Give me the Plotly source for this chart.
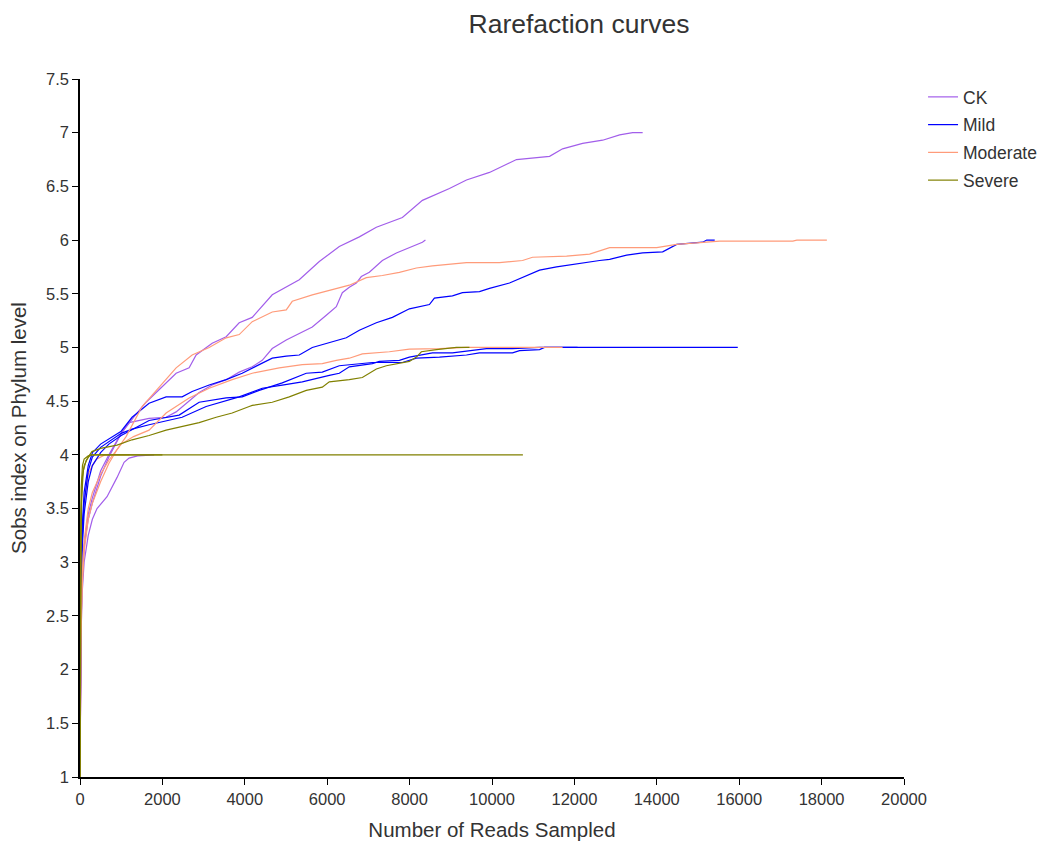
import plotly.graph_objects as go

# ---------------- data (reads sampled, Sobs index) ----------------
ck1_x = [0, 10, 25, 50, 100, 200, 300, 500, 700, 1000, 1300, 1604, 2333, 2649, 2819, 3208, 3548, 3864, 4180, 4666,
         5006, 5322, 5808, 6294, 6780, 7193, 7825, 8311, 8967, 9380, 9939, 10595, 11397, 11713, 12199, 12685,
         13098, 13414, 13657]
ck1_y = [1, 1.8, 2.4, 2.8, 3.15, 3.45, 3.6, 3.85, 4.0, 4.2, 4.35, 4.49, 4.76, 4.81, 4.93, 5.04, 5.10, 5.23, 5.28, 5.49,
         5.56, 5.63, 5.80, 5.94, 6.03, 6.12, 6.21, 6.37, 6.48, 6.56, 6.63, 6.75, 6.78, 6.85, 6.90, 6.93,
         6.98, 7.0, 7.0]

ck2_x = [0, 10, 25, 50, 100, 200, 300, 500, 700, 1000, 1191, 1677, 2090, 2333, 2576, 2892, 3208, 3548, 3864, 4180,
         4423, 4666, 5006, 5322, 5638, 5978, 6221, 6367, 6537, 6707, 6828, 7023, 7339, 7679, 7995, 8311, 8384]
ck2_y = [1, 1.8, 2.4, 2.8, 3.15, 3.4, 3.55, 3.8, 3.98, 4.2, 4.30, 4.34, 4.35, 4.40, 4.48, 4.58, 4.65, 4.70, 4.77, 4.82,
         4.88, 4.99, 5.07, 5.13, 5.19, 5.30, 5.38, 5.51, 5.56, 5.60, 5.66, 5.70, 5.81, 5.88, 5.93, 5.98, 6.0]

ck3_x = [0, 10, 25, 50, 100, 200, 300, 413, 656, 900, 1070, 1190, 1400, 1800]
ck3_y = [1, 1.7, 2.3, 2.7, 3.0, 3.25, 3.4, 3.5, 3.61, 3.79, 3.93, 3.97, 3.99, 4.0]

mild1_x = [0, 10, 25, 50, 100, 200, 300, 500, 700, 1000, 1264, 1677, 2090, 2479, 2722, 3135, 3548, 3937, 4350,
           4666, 5006, 5322, 5638, 5978, 6464, 6780, 7193, 7582, 7995, 8481, 8602, 9040, 9283, 9696, 9939, 10425,
           10741, 11154, 11567, 12199, 12612, 12855, 13268, 13657, 14143, 14483, 15115, 15212, 15406]
mild1_y = [1, 2.2, 2.9, 3.3, 3.65, 3.9, 4.02, 4.1, 4.15, 4.22, 4.35, 4.48, 4.54, 4.54, 4.59, 4.65, 4.70, 4.76, 4.84,
           4.90, 4.92, 4.93, 5.00, 5.04, 5.09, 5.16, 5.23, 5.28, 5.36, 5.40, 5.46, 5.48, 5.51, 5.52, 5.55, 5.60,
           5.65, 5.72, 5.75, 5.79, 5.81, 5.82, 5.86, 5.88, 5.89, 5.96, 5.98, 6.0, 6.0]

mild2_x = [0, 10, 25, 50, 100, 200, 300, 500, 700, 1000, 1200, 1677, 2406, 2892, 3548, 3937, 4350, 4909, 5492,
           5881, 6294, 6780, 7096, 7825, 8165, 8724, 9380, 9696, 10498, 10668, 11154, 11275, 15965]
mild2_y = [1, 2.0, 2.7, 3.1, 3.45, 3.75, 3.9, 4.02, 4.1, 4.18, 4.22, 4.32, 4.37, 4.49, 4.53, 4.54, 4.60, 4.67, 4.76,
           4.77, 4.83, 4.85, 4.86, 4.86, 4.90, 4.91, 4.93, 4.95, 4.95, 4.97, 4.98, 5.0, 5.0]

mild3_x = [0, 10, 25, 50, 100, 200, 300, 500, 700, 1000, 1264, 1677, 2479, 3062, 3864, 4423, 4909, 5395, 6051,
           6294, 6537, 7096, 7266, 7752, 7995, 8238, 8554, 9040, 9526, 9866, 10498, 11154, 12077]
mild3_y = [1, 2.1, 2.8, 3.2, 3.55, 3.85, 3.98, 4.07, 4.12, 4.2, 4.24, 4.28, 4.35, 4.45, 4.54, 4.62, 4.65, 4.68, 4.74,
           4.76, 4.82, 4.85, 4.87, 4.88, 4.91, 4.93, 4.95, 4.95, 4.97, 4.99, 4.99, 5.0, 5.0]

mod1_x = [0, 10, 25, 50, 100, 200, 300, 500, 700, 900, 1118, 1507, 1920, 2333, 2722, 3135, 3548, 3864, 4180,
          4666, 5006, 5152, 5638, 6124, 6537, 6950, 7339, 7752, 8165, 8554, 9380, 10182, 10741, 10984, 11810,
          12369, 12855, 13997, 14483, 15528, 17302, 17399, 18128]
mod1_y = [1, 1.7, 2.3, 2.75, 3.1, 3.4, 3.55, 3.75, 3.92, 4.05, 4.17, 4.45, 4.63, 4.81, 4.93, 5.00, 5.09, 5.12, 5.24,
          5.33, 5.35, 5.43, 5.49, 5.54, 5.58, 5.65, 5.67, 5.70, 5.74, 5.76, 5.79, 5.79, 5.81, 5.84, 5.85,
          5.87, 5.93, 5.93, 5.96, 5.99, 5.99, 6.0, 6.0]

mod2_x = [0, 10, 25, 50, 100, 200, 300, 500, 700, 1000, 1300, 1677, 2090, 2649, 3135, 3694, 4180, 4836, 5395,
          5881, 6221, 6537, 6853, 7509, 7995, 8724, 9380, 11713]
mod2_y = [1, 1.8, 2.4, 2.85, 3.2, 3.5, 3.65, 3.82, 3.95, 4.1, 4.17, 4.23, 4.39, 4.53, 4.62, 4.70, 4.76, 4.81, 4.84,
          4.85, 4.88, 4.90, 4.94, 4.96, 4.985, 4.99, 5.0, 5.0]

mod3_x = [0, 10, 25, 50, 100, 200, 300, 400, 600, 1200]
mod3_y = [1, 2.0, 2.7, 3.2, 3.55, 3.82, 3.9, 3.96, 4.0, 4.0]

sev1_x = [0, 5, 15, 30, 60, 100, 200, 290, 500, 900, 1264, 1677, 2090, 2576, 2892, 3305, 3694, 4107, 4180, 4666,
          5079, 5492, 5881, 6051, 6537, 6853, 7023, 7193, 7436, 7825, 7995, 8165, 8286, 8651, 8894, 9137, 9453]
sev1_y = [1, 2.0, 3.0, 3.5, 3.8, 3.9, 3.98, 4.03, 4.06, 4.09, 4.14, 4.18, 4.23, 4.27, 4.30, 4.35, 4.39, 4.45, 4.46,
          4.49, 4.54, 4.60, 4.63, 4.68, 4.70, 4.72, 4.76, 4.80, 4.83, 4.86, 4.87, 4.91, 4.96, 4.98, 4.99, 5.0, 5.0]

sev2_x = [0, 5, 15, 30, 60, 100, 200, 300, 10750]
sev2_y = [1, 2.5, 3.3, 3.7, 3.9, 3.96, 3.99, 4.0, 4.0]

sev3_x = [0, 8, 20, 40, 80, 150, 250, 2000]
sev3_y = [1, 2.2, 3.1, 3.6, 3.85, 3.95, 4.0, 4.0]

groups = ["CK", "Mild", "Moderate", "Severe"]
colors = {"CK": "#A25EEA", "Mild": "#0000FF", "Moderate": "#FF9B7A", "Severe": "#808000"}
curves = [
    ("Moderate", mod3_x, mod3_y),
    ("CK", ck1_x, ck1_y), ("CK", ck2_x, ck2_y), ("CK", ck3_x, ck3_y),
    ("Mild", mild1_x, mild1_y), ("Mild", mild2_x, mild2_y), ("Mild", mild3_x, mild3_y),
    ("Moderate", mod1_x, mod1_y), ("Moderate", mod2_x, mod2_y),
    ("Severe", sev1_x, sev1_y), ("Severe", sev2_x, sev2_y), ("Severe", sev3_x, sev3_y),
]

fig = go.Figure()
shown = set()
for g, xs, ys in curves:
    fig.add_trace(go.Scatter(
        x=xs, y=ys, mode="lines", name=g, legendgroup=g,
        legendrank=groups.index(g) + 1,
        showlegend=g not in shown,
        line=dict(color=colors[g], width=1.2),
        hoverinfo="x+y+name",
    ))
    shown.add(g)

font_family = "Liberation Sans, Arial, sans-serif"
fig.update_layout(
    width=1039, height=841,
    margin=dict(l=80, r=135, t=79, b=64, autoexpand=False),
    paper_bgcolor="white", plot_bgcolor="white",
    font=dict(family=font_family, color="#333333"),
    title=dict(text="Rarefaction curves", x=579 / 1039, xanchor="center", xref="container",
               y=1 - 24 / 841, yanchor="middle", font=dict(size=26.5, color="#333333")),
    legend=dict(x=1.0231, xanchor="left", y=1.0, yanchor="top",
                font=dict(size=17.5, color="#333333"), traceorder="grouped", tracegroupgap=2,
                itemwidth=30, bgcolor="rgba(0,0,0,0)"),
    showlegend=True,
)
fig.update_xaxes(
    range=[0, 20000], dtick=2000, tick0=0, tickformat="d", showgrid=False, zeroline=False,
    showline=True, linecolor="black", linewidth=1.5, ticks="outside", ticklen=6, tickcolor="black",
    tickfont=dict(size=16.5, color="#333333"),
    title=dict(text="Number of Reads Sampled", font=dict(size=20.5, color="#333333"), standoff=18),
)
fig.update_yaxes(
    range=[1, 7.5], dtick=0.5, tick0=1, showgrid=False, zeroline=False,
    showline=True, linecolor="black", linewidth=1.5, ticks="outside", ticklen=6, tickcolor="black",
    tickfont=dict(size=16.5, color="#333333"),
    title=dict(text="Sobs index on Phylum level", font=dict(size=20.5, color="#333333"), standoff=14),
)
fig.write_html("out.html")
